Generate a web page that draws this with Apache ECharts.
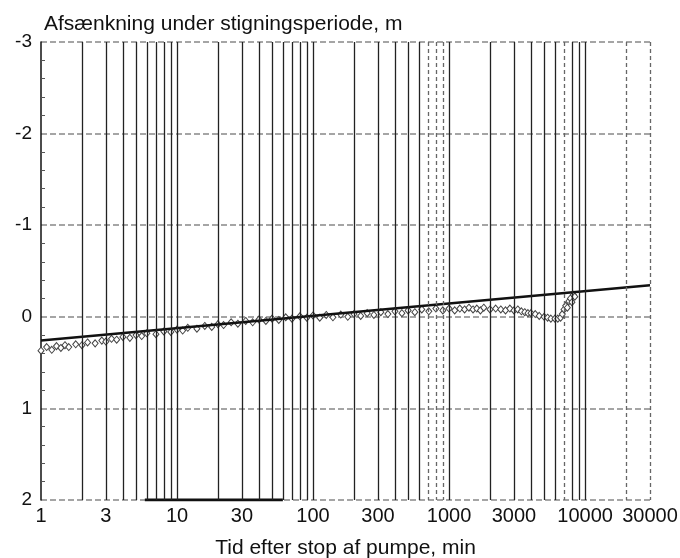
<!DOCTYPE html>
<html>
<head>
<meta charset="utf-8">
<script src="https://cdn.jsdelivr.net/npm/echarts@6/dist/echarts.min.js"></script>
<style>
  html, body { margin: 0; padding: 0; background: #fff; }
  #chart { width: 680px; height: 558px; }
</style>
</head>
<body>
<div id="chart"></div>
<script>
// maalte punkter (tid i min, afsaenkning i m)
var obsTime = [1, 1.1, 1.2, 1.3, 1.4, 1.5, 1.6, 1.8, 2, 2.2, 2.5, 2.8, 3, 3.3, 3.6, 4, 4.5, 5, 5.5, 6,
    7, 8, 9, 10, 11, 12, 14, 16, 18, 20, 22, 25, 28, 32, 36, 40, 45, 50, 56, 63,
    70, 80, 90, 100, 112, 125, 140, 160, 180, 200, 224, 250, 280, 315, 355, 400, 450, 500, 560, 630,
    710, 800, 900, 1000, 1100, 1200, 1300, 1400, 1500, 1600, 1700, 1800, 2000, 2200, 2400, 2600, 2800, 3000, 3200, 3400,
    3600, 3800, 4000, 4300, 4600, 5000, 5300, 5600, 6000, 6300, 6600, 6800, 7000, 7200, 7400, 7600, 7800, 8000, 8200, 8400];
var obsDraw = [0.37, 0.33, 0.36, 0.32, 0.34, 0.31, 0.33, 0.30, 0.31, 0.28, 0.29, 0.26, 0.27, 0.24, 0.25, 0.22, 0.23, 0.20, 0.21, 0.18,
    0.19, 0.16, 0.165, 0.14, 0.15, 0.12, 0.13, 0.10, 0.11, 0.08, 0.09, 0.06, 0.075, 0.045, 0.06, 0.03, 0.045, 0.02, 0.035, 0.005,
    0.02, -0.005, 0.01, -0.015, 0.01, -0.02, 0.005, -0.025, 0.0, -0.03, -0.01, -0.04, -0.02, -0.05, -0.03, -0.06, -0.04, -0.07, -0.05, -0.08,
    -0.06, -0.09, -0.07, -0.09, -0.07, -0.09, -0.08, -0.10, -0.08, -0.09, -0.07, -0.10, -0.08, -0.09, -0.08, -0.07, -0.09, -0.07, -0.08, -0.06,
    -0.05, -0.04, -0.04, -0.03, -0.01, 0.0, 0.01, 0.02, 0.02, 0.02, 0.01, -0.03, -0.08, -0.12, -0.10, -0.17, -0.20, -0.16, -0.24, -0.22];

// tilpasset ret linje
var fitTime = [1, 30000];
var fitDraw = [0.26, -0.345];

// tyk streg langs bunden
var baseBarTime = [5.8, 60];
var baseBarDraw = [2, 2];

var xLabelValues = [1, 3, 10, 30, 100, 300, 1000, 3000, 10000, 30000];

// lodrette gitterlinjer paa log-papir
var gridSolid = [2, 3, 4, 5, 6, 7, 8, 9, 10, 20, 30, 40, 50, 60, 70, 80, 90, 100,
    200, 300, 400, 500, 600, 1000, 2000, 3000, 4000, 5000, 6000, 8000, 9000, 10000];
var gridDotted = [700, 800, 900, 7000, 20000, 30000];

var FONT = 'Liberation Sans, Arial, sans-serif';

function pairs(xs, ys) {
    var out = [];
    for (var i = 0; i < xs.length; i++) out.push([xs[i], ys[i]]);
    return out;
}

function vlines(vals) {
    return vals.map(function (v) { return { xAxis: v }; });
}

var chart = echarts.init(document.getElementById('chart'));

var option = {
    backgroundColor: '#fff',
    animation: false,
    textStyle: { fontFamily: FONT, color: '#111' },
    title: {
        text: 'Afsænkning under stigningsperiode, m',
        left: 39,
        top: 9,
        textStyle: { fontSize: 21, fontWeight: 'normal', color: '#111', fontFamily: FONT }
    },
    grid: { left: 41, top: 42, right: 30, bottom: 58, containLabel: false, outerBoundsMode: 'none' },
    xAxis: {
        type: 'log',
        logBase: 10,
        min: 1,
        max: 30000,
        name: 'Tid efter stop af pumpe, min',
        nameLocation: 'middle',
        nameGap: 38,
        nameTextStyle: { fontSize: 21, color: '#111', fontFamily: FONT },
        axisLine: { show: false },
        axisTick: { show: false },
        splitLine: { show: false },
        axisLabel: {
            fontSize: 20,
            color: '#111',
            margin: 6,
            customValues: xLabelValues,
            formatter: function (v) { return String(Math.round(v)); }
        }
    },
    yAxis: {
        type: 'value',
        inverse: true,
        min: -3,
        max: 2,
        interval: 1,
        axisLine: { show: true, lineStyle: { color: '#111', width: 1.5 } },
        axisTick: { show: false, inside: true },
        minorTick: { show: true, splitNumber: 5, length: 4, lineStyle: { color: '#555' } },
        axisLabel: { fontSize: 19, color: '#111', margin: 9 },
        splitLine: { show: true, lineStyle: { color: '#888', type: [6, 3], width: 1.5 } }
    },
    series: [
        {
            type: 'line',
            silent: true,
            data: [],
            markLine: {
                silent: true,
                symbol: 'none',
                label: { show: false },
                lineStyle: { color: '#222', type: 'solid', width: 1.3 },
                data: vlines(gridSolid)
            }
        },
        {
            type: 'line',
            silent: true,
            data: [],
            markLine: {
                silent: true,
                symbol: 'none',
                label: { show: false },
                lineStyle: { color: '#666', type: [4, 3], width: 1.3 },
                data: vlines(gridDotted)
            }
        },
        {
            name: 'maalt',
            type: 'line',
            data: pairs(obsTime, obsDraw),
            lineStyle: { width: 0 },
            symbol: 'diamond',
            symbolSize: [6, 7],
            itemStyle: { color: '#fff', borderColor: '#444', borderWidth: 1 },
            z: 3
        },
        {
            name: 'tilpasset',
            type: 'line',
            data: pairs(fitTime, fitDraw),
            symbol: 'none',
            lineStyle: { color: '#111', width: 2.5 },
            z: 4
        },
        {
            type: 'line',
            data: pairs(baseBarTime, baseBarDraw),
            symbol: 'none',
            lineStyle: { color: '#111', width: 3 },
            z: 4
        }
    ]
};

chart.setOption(option);
</script>
</body>
</html>
